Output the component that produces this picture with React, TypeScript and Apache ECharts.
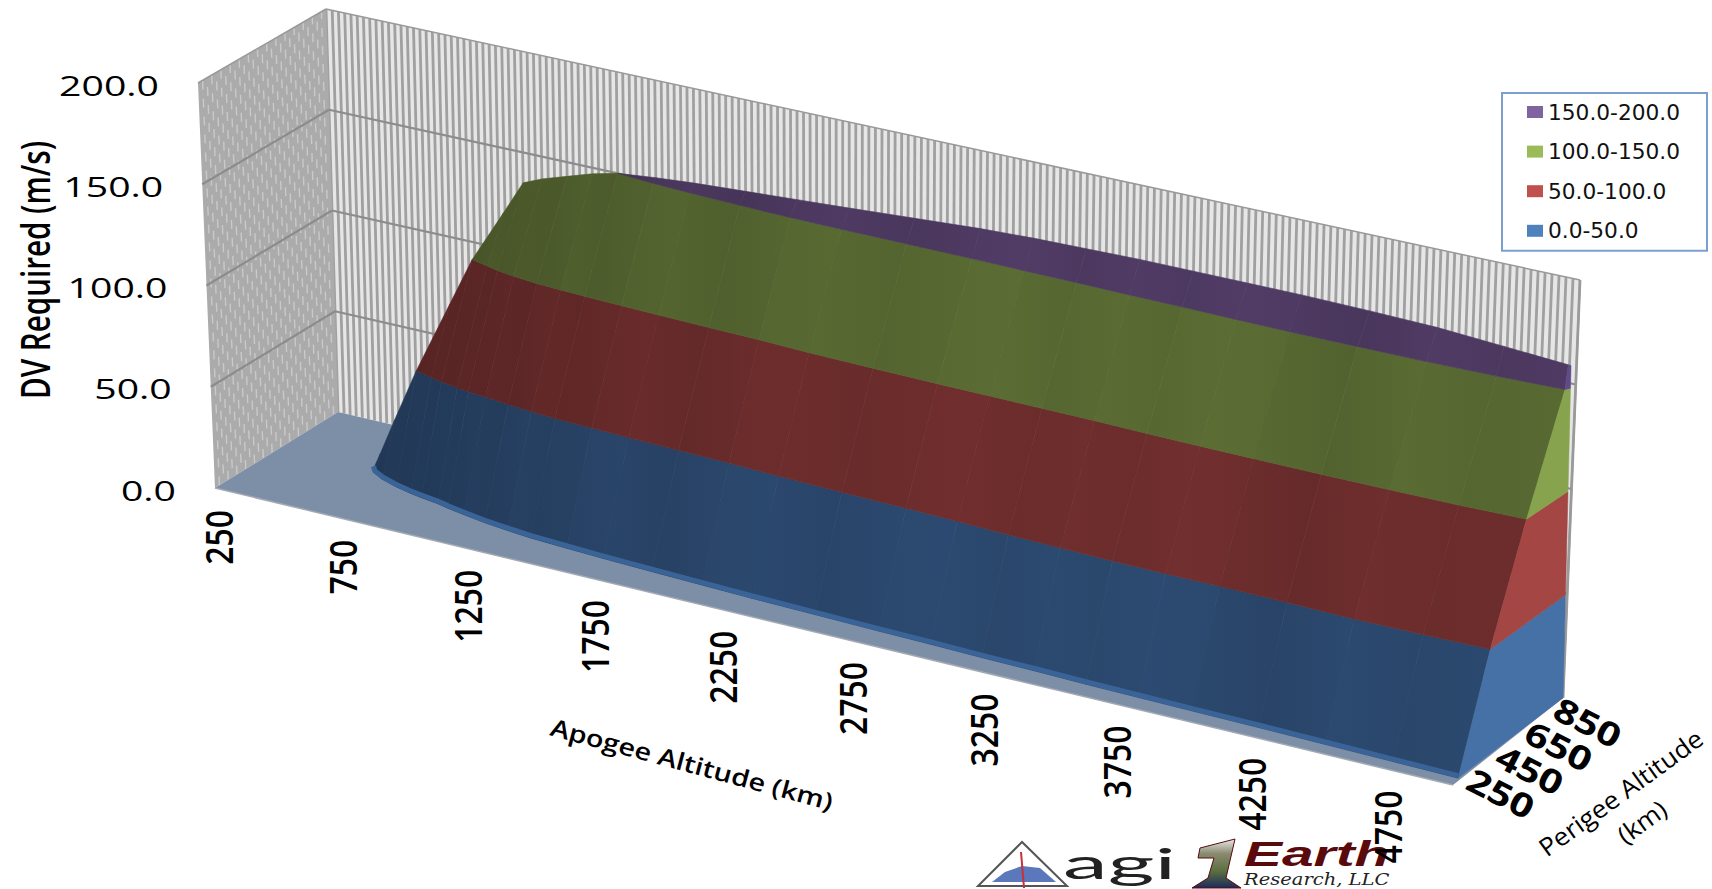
import React, { useEffect, useRef } from "react";
import * as echarts from "echarts";

const W = 1712;
const H = 889;

const apogeeKm = [625,650,700,775,850,900,975,1025,1100,1200,1300,1400,1550,1700,1900,2100,2300,2550,2800,3000,3200,3400,3600,3800,4000,4250,4500,4750,4990];
const perigeeAt0 = [628,600,572,544,523,512,498,484,467,446,431,418,407,397,387,378,369,361,353,348,341,337,330,326,322,318,312,306,300];
const perigeeAt50 = [null,null,null,null,656,642,625,617,607,593,582,572,565,558,551,544,533,523,516,509,498,491,484,481,482,478,472,474,480];
const perigeeAt100 = [null,null,null,null,null,null,810,796,782,768,761,754,747,740,733,726,715,708,701,698,694,691,684,680,677,674,674,676,684];
const perigeeAt150 = [null,null,null,null,null,null,null,null,null,null,null,null,935,925,915,908,905,903,901,897,894,890,887,883,880,880,882,888,900];
const ridgeDV = [0,8,25,50,80,100,121,135,139,143,147,150,152,153.5,155,156.5,158,160,162,163,163.5,164,164,164,164,163.5,163,162,161];
const ridgeP = [628,636,652,677,770,831,905,950,950,950,950,950,950,950,950,950,950,950,950,950,950,950,950,950,950,950,945,930,915];

const apogeeTicks = [250,750,1250,1750,2250,2750,3250,3750,4250,4750];
const perigeeTicks = [250,450,650,850];
const dvTicks = [0,50,100,150,200];
const bandNames = ["0.0-50.0","50.0-100.0","100.0-150.0","150.0-200.0"];
const bandLegend = ["#4F81BD","#C0504D","#9BBB59","#8064A2"];
const bandFront = [[43,72,110],[110,45,45],[88,105,50],[78,58,98]];
const bandSide = ["#4571A7","#A34644","#87A34E","#5F4B87"];
const columnShade = [0.78,0.76,0.8,0.78,0.82,0.8,0.84,0.82,0.86,0.84,0.9,0.87,0.92,0.96,0.9,0.97,1,0.95,1,1.03,0.97,1.02,0.98,1.04,1,0.93,1.02,0.97,1];

const A_MIN = 250, A_MAX = 5000, P_MIN = 250, P_MAX = 950, DV_MAX = 200;
const LINE_STEP = 25;

const c000 = [215,488], c100 = [1453,785], c010 = [338,412], c110 = [1563,698];
const c001 = [198,83], c101 = [1468,355], c011 = [326,9], c111 = [1580,280];
const K = 0.943;

function project(t: number, v: number, w: number) {
  const s = (t * K) / (1 + t * (K - 1));
  const out = [0, 0];
  for (const d of [0, 1]) {
    const b0 = c000[d] + (c100[d] - c000[d]) * s;
    const b1 = c010[d] + (c110[d] - c010[d]) * s;
    const t0 = c001[d] + (c101[d] - c001[d]) * s;
    const t1 = c011[d] + (c111[d] - c011[d]) * s;
    const b = b0 + (b1 - b0) * v;
    const u = t0 + (t1 - t0) * v;
    out[d] = b + (u - b) * w;
  }
  return out;
}

function projector(api: any) {
  return (A: number, P: number, z: number) => {
    const c = api.coord([A, z]);
    return project(c[0] / W, (P - P_MIN) / (P_MAX - P_MIN), 1 - c[1] / H);
  };
}

const levelP = [perigeeAt0, perigeeAt50, perigeeAt100, perigeeAt150];
const levelDV = [0, 50, 100, 150];

function levelPoint(i: number, k: number): [number, number, number] {
  if (k === 4 || levelP[k][i] == null || levelDV[k] >= ridgeDV[i]) return [apogeeKm[i], ridgeP[i], ridgeDV[i]];
  return [apogeeKm[i], levelP[k][i] as number, levelDV[k]];
}

function renderWalls(_p: any, api: any) {
  const p3 = projector(api);
  const kids: any[] = [];
  const poly = (pts: number[][], fill: string, stroke = "none", lw = 0) =>
    kids.push({ type: "polygon", silent: true, shape: { points: pts }, style: { fill, stroke, lineWidth: lw } });
  const line = (a: number[], b: number[], stroke: string, lineWidth: number, extra: any = {}) =>
    kids.push({ type: "line", silent: true, shape: { x1: a[0], y1: a[1], x2: b[0], y2: b[1] }, style: { stroke, lineWidth, ...extra } });

  poly([p3(A_MIN,P_MAX,0),p3(A_MAX,P_MAX,0),p3(A_MAX,P_MAX,DV_MAX),p3(A_MIN,P_MAX,DV_MAX)], "#e6e6e6");
  for (let A = A_MIN; A <= A_MAX; A += LINE_STEP) line(p3(A,P_MAX,0), p3(A,P_MAX,DV_MAX), "#a0a0a0", 2.8);
  poly([p3(A_MIN,P_MIN,0),p3(A_MIN,P_MAX,0),p3(A_MIN,P_MAX,DV_MAX),p3(A_MIN,P_MIN,DV_MAX)], "#ababab");
  let n = 0;
  for (let P = P_MIN + LINE_STEP; P < P_MAX; P += LINE_STEP) {
    line(p3(A_MIN,P,0), p3(A_MIN,P,DV_MAX), "#c9c9c9", 1.4, { lineDash: [9, 9], lineDashOffset: n % 2 ? 9 : 0 });
    n++;
  }
  for (const z of dvTicks.slice(1, 4)) {
    line(p3(A_MIN,P_MIN,z), p3(A_MIN,P_MAX,z), "#8c8c8c", 2.2);
    line(p3(A_MIN,P_MAX,z), p3(A_MAX,P_MAX,z), "#8c8c8c", 2.2);
  }
  line(p3(A_MIN,P_MAX,DV_MAX), p3(A_MAX,P_MAX,DV_MAX), "#999999", 1.5);
  line(p3(A_MIN,P_MIN,DV_MAX), p3(A_MIN,P_MAX,DV_MAX), "#999999", 1.5);
  line(p3(A_MAX,P_MAX,0), p3(A_MAX,P_MAX,DV_MAX), "#999999", 2);
  poly([p3(A_MIN,P_MIN,0),p3(A_MAX,P_MIN,0),p3(A_MAX,P_MAX,0),p3(A_MIN,P_MAX,0)], "#7d8ea7");
  line(p3(A_MIN,P_MIN,0), p3(A_MAX,P_MIN,0), "#a3a9b3", 1.5);
  return { type: "group", children: kids };
}

function shadeColor(k: number, sh: number) {
  const rgb = bandFront[k].map((x) => Math.min(255, Math.round(x * sh)));
  return `rgb(${rgb[0]},${rgb[1]},${rgb[2]})`;
}

function renderBand(k: number) {
  return (_p: any, api: any) => {
    const p3 = projector(api);
    const i = api.value(2) as number;
    const last = apogeeKm.length - 1;
    const a = levelPoint(i, k), b = levelPoint(i, k + 1);
    if (i === last) {
      const back = (z: number) => P_MAX - z * 0.22;
      const pts = [p3(a[0],a[1],a[2]), p3(b[0],b[1],b[2]), p3(A_MAX,back(b[2]),b[2]), p3(A_MAX,back(levelDV[k]),levelDV[k])];
      return { type: "polygon", silent: true, shape: { points: pts }, style: { fill: bandSide[k], stroke: bandSide[k], lineWidth: 0.5 } };
    }
    if (levelDV[k] >= ridgeDV[i + 1]) return null;
    const c = levelPoint(i + 1, k + 1), d = levelPoint(i + 1, k);
    const s0 = columnShade[i], s1 = columnShade[i + 1];
    const fill = {
      type: "linear", x: 0, y: 0, x2: 1, y2: 0, global: false,
      colorStops: [{ offset: 0, color: shadeColor(k, s0) }, { offset: 1, color: shadeColor(k, s1) }],
    };
    const pts = [a, b, c, d].map((q) => p3(q[0], q[1], q[2]));
    return { type: "polygon", silent: true, shape: { points: pts }, style: { fill, stroke: shadeColor(k, (s0 + s1) / 2), lineWidth: 0.6 } };
  };
}

function renderBase(_p: any, api: any) {
  const p3 = projector(api);
  const pts = apogeeKm.map((A, i) => {
    const q = p3(A, perigeeAt0[i], 0);
    return [q[0], q[1] - 2.5];
  });
  return { type: "polyline", silent: true, shape: { points: pts }, style: { fill: "none", stroke: "#3a6497", lineWidth: 5 } };
}

function renderLabels(_p: any, api: any) {
  const p3 = projector(api);
  const font = "'Open Sans', 'Noto Sans', sans-serif";
  const kids: any[] = [];
  const text = (s: string, x: number, y: number, size: number, opts: any = {}) =>
    kids.push({
      type: "text", silent: true, x, y, rotation: (opts.rot || 0) * Math.PI / 180,
      scaleX: opts.sx || 1, scaleY: 1,
      style: { text: s, fontFamily: font, fontSize: size, fontWeight: opts.w || 400, fill: "#000000",
        align: opts.align || "center", verticalAlign: "middle", lineHeight: opts.lh },
    });
  for (const z of dvTicks) {
    const q = p3(A_MIN, P_MIN, z);
    text(z.toFixed(1), q[0] - 39, q[1] + 2, 28, { align: "right", sx: 1.4 });
  }
  text("DV Required (m/s)", 34, 270, 40, { rot: 90, sx: 0.74, w: 600 });
  for (const A of apogeeTicks) {
    const q = p3(A, P_MIN, 0);
    text(String(A), q[0] + 3, q[1] + 22, 38, { rot: 90, sx: 0.84, w: 600, align: "right" });
  }
  text("Apogee Altitude (km)", 692, 764, 24, { rot: -15, sx: 1.2, w: 600 });
  for (const P of perigeeTicks) {
    const q = p3(A_MAX, P, 0);
    text(String(P), q[0] + 48 - (P - 250) * 0.012, q[1] + 8 + (P - 250) * 0.006, 33, { rot: -27, sx: 1.25, w: 700 });
  }
  text("Perigee Altitude\n(km)", 1631, 807, 25, { rot: 36, sx: 1.06, w: 500, lh: 36 });
  return { type: "group", children: kids };
}

function logos() {
  const oneFill = new echarts.graphic.LinearGradient(0, 0, 0, 1, [
    { offset: 0, color: "#e8e8e8" },
    { offset: 0.3, color: "#8a8a70" },
    { offset: 0.65, color: "#5d7040" },
    { offset: 1, color: "#1b2a5c" },
  ]);
  return [
    { type: "polygon", z: 1, shape: { points: [[1022,842],[978,886],[1067,886]] }, style: { fill: "#ffffff", stroke: "#555555", lineWidth: 2 } },
    { type: "polygon", z: 1, shape: { points: [[992,882],[1005,872],[1022,866],[1040,868],[1056,882]] }, style: { fill: "#5a78bb" } },
    { type: "line", z: 1, shape: { x1: 1021, y1: 852, x2: 1024, y2: 888 }, style: { stroke: "#c8303a", lineWidth: 2 } },
    { type: "text", z: 1, x: 1063, y: 842, scaleX: 2.14, style: { text: "agi", fontFamily: "Lato, sans-serif", fontSize: 42, fontWeight: 400, fill: "#222222", lineHeight: 42, verticalAlign: "top" } },
    { type: "polygon", z: 1, shape: { points: [[1200,848],[1235,839],[1226,878],[1241,888],[1192,888],[1208,878],[1214,858],[1198,858]] }, style: { fill: oneFill, stroke: "#5a0a0c", lineWidth: 1 } },
    { type: "text", z: 1, x: 1244, y: 836, scaleX: 1.58, style: { text: "Earth", fontFamily: "'Liberation Sans', sans-serif", fontStyle: "italic", fontWeight: 700, fontSize: 36, fill: "#5a0a0c", lineHeight: 36, verticalAlign: "top" } },
    { type: "text", z: 1, x: 1244, y: 870, scaleX: 1.22, style: { text: "Research, LLC", fontFamily: "'DejaVu Serif', serif", fontStyle: "italic", fontSize: 16, fill: "#222222", lineHeight: 18, verticalAlign: "top" } },
  ];
}

export default function App() {
  const ref = useRef<HTMLDivElement>(null);
  useEffect(() => {
    document.body.style.margin = "0";
    const chart = echarts.init(ref.current as HTMLDivElement, undefined, { renderer: "svg" });
    const base = { type: "custom", coordinateSystem: "cartesian2d", clip: false, silent: true };
    chart.setOption({
      animation: false,
      backgroundColor: "#ffffff",
      grid: { left: 0, right: 0, top: 0, bottom: 0 },
      xAxis: { type: "value", min: A_MIN, max: A_MAX, show: false },
      yAxis: { type: "value", min: 0, max: DV_MAX, show: false },
      legend: {
        show: true, orient: "vertical", left: 1502, top: 93,
        data: [...bandNames].reverse(), icon: "rect", itemWidth: 16, itemHeight: 12, itemGap: 17.6,
        padding: [8, 27, 9, 25], borderColor: "#7C9FD0", borderWidth: 2, backgroundColor: "#ffffff",
        selectedMode: false,
        textStyle: { fontFamily: "'DejaVu Sans', sans-serif", fontSize: 21.7, color: "#111111", lineHeight: 20 },
      },
      graphic: logos(),
      series: [
        { ...base, name: "walls", z: 1, data: [[A_MIN, 0]], renderItem: renderWalls },
        ...bandNames.map((name, k) => ({
          ...base, name, z: 2 + k * 0.01, itemStyle: { color: bandLegend[k] },
          data: apogeeKm.map((A, i) => [A, levelDV[k], i]),
          renderItem: renderBand(k),
        })),
        { ...base, name: "base", z: 3, data: [[A_MIN, 0]], renderItem: renderBase },
        { ...base, name: "labels", z: 5, data: [[A_MIN, 0]], renderItem: renderLabels },
      ],
    });
    return () => chart.dispose();
  }, []);
  return <div ref={ref} style={{ position: "fixed", left: 0, top: 0, width: W, height: H }} />;
}
